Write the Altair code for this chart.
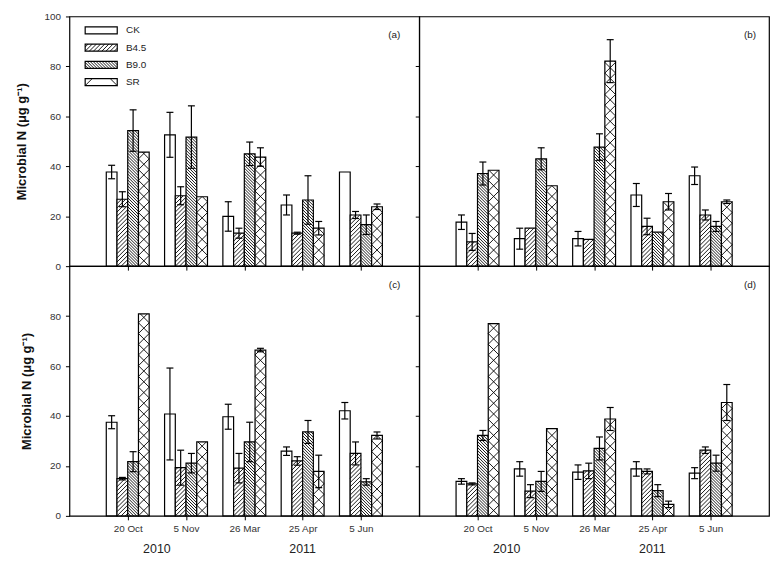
import math
import altair as alt
import pandas as pd

# ---------------- data ----------------
dates = ["20 Oct", "5 Nov", "26 Mar", "25 Apr", "5 Jun"]
date_years = ["2010", "2010", "2011", "2011", "2011"]
treatments = ["CK", "B4.5", "B9.0", "SR"]
panel_tags = ["(a)", "(b)", "(c)", "(d)"]
y_title = "Microbial N (μg g⁻¹)"

# rows: CK, B4.5, B9.0, SR ; columns: dates
a_means = [[37.7, 52.6, 19.9, 24.5, 37.7],
           [26.8, 28.2, 13.2, 13.2, 20.5],
           [54.3, 51.7, 45.0, 26.5, 16.6],
           [45.7, 27.8, 43.7, 15.2, 23.8]]
a_errs = [[2.7, 9.0, 5.9, 4.0, 0.0],
          [3.0, 3.6, 2.0, 0.4, 1.4],
          [8.3, 12.5, 4.7, 9.7, 3.9],
          [0.0, 0.0, 3.7, 2.7, 1.1]]

b_means = [[17.6, 11.0, 11.0, 28.5, 36.2],
           [9.7, 15.2, 10.7, 15.9, 20.5],
           [37.1, 43.0, 47.7, 13.6, 15.9],
           [38.4, 32.2, 82.1, 25.8, 25.8]]
b_errs = [[2.9, 4.2, 2.9, 4.6, 3.5],
          [3.4, 0.0, 0.0, 3.3, 2.0],
          [4.6, 4.4, 5.3, 0.0, 2.0],
          [0.0, 0.0, 8.6, 3.3, 0.7]]

c_means = [[37.5, 40.8, 39.7, 25.9, 42.1],
           [14.9, 19.3, 19.1, 22.0, 25.0],
           [21.7, 21.1, 29.6, 33.6, 13.6],
           [80.9, 29.6, 66.4, 17.8, 32.2]]
c_errs = [[2.6, 18.4, 5.0, 1.7, 3.3],
          [0.5, 7.0, 5.9, 1.7, 4.6],
          [4.0, 3.9, 7.9, 4.6, 1.3],
          [0.0, 0.0, 0.7, 6.5, 1.4]]

d_means = [[13.8, 18.8, 17.5, 18.8, 17.1],
           [12.8, 9.9, 18.0, 17.8, 26.3],
           [32.2, 13.8, 27.0, 10.1, 21.1],
           [77.0, 34.9, 38.8, 4.6, 45.4]]
d_errs = [[1.1, 2.9, 2.9, 2.9, 2.2],
          [0.4, 2.6, 3.1, 1.0, 1.3],
          [2.0, 4.0, 4.6, 2.4, 3.2],
          [0.0, 0.0, 4.6, 1.3, 7.2]]

# ---------------- layout / style ----------------
W, H = 353, 252
X_MAX, Y_MAX = 6.0, 100.0
SX, SY = W / X_MAX, H / Y_MAX
BAR_W = 0.184
FONT = "Liberation Sans"
patterns = {"CK": None, "B4.5": "up", "B9.0": "down", "SR": "x"}
UP_STEP, DOWN_STEP = 4.2, 3.0


def hatch(x0, x1, y0, y1, kind):
    """Hatch segments (data units) filling the rectangle."""
    segs = []
    if kind is None:
        return segs
    bw = (x1 - x0) * SX
    h = (y1 - y0) * SY

    def up(step):
        c = -math.floor(bw / step) * step
        while c < h:
            xa, xb = max(0.0, -c), min(bw, h - c)
            if xb - xa > 0.4:
                segs.append((x0 + xa / SX, y0 + (xa + c) / SY,
                             x0 + xb / SX, y0 + (xb + c) / SY))
            c += step

    def down(step):
        c = 0.0
        while c < h + bw:
            xa, xb = max(0.0, c - h), min(bw, c)
            if xb - xa > 0.4:
                segs.append((x0 + xa / SX, y0 + (c - xa) / SY,
                             x0 + xb / SX, y0 + (c - xb) / SY))
            c += step

    if kind == "up":
        up(UP_STEP)
    elif kind == "down":
        down(DOWN_STEP)
    elif kind == "x":
        up(bw)
        down(bw)
    return segs


def label_expr(labels):
    arr = ",".join("'" + s + "'" for s in [""] + labels)
    return "[" + arr + "][datum.value]"


def panel(idx, means, errs):
    tag = panel_tags[idx]
    left = idx % 2 == 0
    bottom = idx >= 2

    bars, hat, ebars, caps = [], [], [], []
    for si, t in enumerate(treatments):
        for gi, d in enumerate(dates):
            g = gi + 1
            x0 = g - 2 * BAR_W + si * BAR_W
            x1 = x0 + BAR_W
            v = means[si][gi]
            e = errs[si][gi]
            bars.append({"x0": x0, "x1": x1, "v": v, "z": 0.0, "t": t})
            for s in hatch(x0, x1, 0.0, v, patterns[t]):
                hat.append({"hx0": s[0], "hy0": s[1], "hx1": s[2], "hy1": s[3]})
            if e > 0:
                xc = (x0 + x1) / 2
                ebars.append({"xc": xc, "lo": v - e, "hi": v + e})
                for yy in (v - e, v + e):
                    caps.append({"cx0": xc - 3.5 / SX, "cx1": xc + 3.5 / SX, "cy": yy})

    xscale = alt.Scale(domain=[0, X_MAX], nice=False, zero=False)
    yscale = alt.Scale(domain=[0, Y_MAX], nice=False)

    x_axis = alt.Axis(values=[1, 2, 3, 4, 5], labels=bottom,
                      labelExpr=label_expr(dates), grid=False, domain=False,
                      ticks=True, tickSize=4, tickColor="black", tickWidth=1,
                      labelFont=FONT, labelFontSize=10, labelColor="#333",
                      labelPadding=4, title=None)
    if left:
        yvals = [0, 20, 40, 60, 80, 100] if not bottom else [0, 20, 40, 60, 80]
        y_axis = alt.Axis(values=yvals, labels=True, grid=False, domain=False,
                          tickSize=4, tickColor="black", tickWidth=1,
                          labelFont=FONT, labelFontSize=10, labelColor="#333",
                          labelPadding=5, title=y_title, titleFont=FONT,
                          titleFontSize=13, titleFontWeight="bold",
                          titleColor="#111", titlePadding=16)
    else:
        y_axis = alt.Axis(values=[20, 40, 60, 80], labels=False, grid=False,
                          domain=False, tickSize=4, tickColor="black",
                          tickWidth=1, title=None)

    bar_layer = alt.Chart(pd.DataFrame(bars)).mark_bar(
        fill="white", stroke="black", strokeWidth=1.2
    ).encode(
        x=alt.X("x0:Q", scale=xscale, axis=x_axis),
        x2="x1:Q",
        y=alt.Y("v:Q", scale=yscale, axis=y_axis),
        y2="z:Q",
    )
    layers = [bar_layer]

    # legend in panel (a)
    leg_hat = []
    leg_rows = []
    if idx == 0:
        for i, t in enumerate(treatments):
            yc = 94.4 - i * 6.9
            ly0, ly1 = yc - 1.4, yc + 1.4
            lx0, lx1 = 0.27, 0.82
            leg_rows.append({"x0": lx0, "x1": lx1, "v": ly1, "z": ly0,
                             "tx": 0.97, "ty": yc, "label": t})
            for s in hatch(lx0, lx1, ly0, ly1, patterns[t]):
                leg_hat.append({"hx0": s[0], "hy0": s[1], "hx1": s[2], "hy1": s[3]})
        leg_df = pd.DataFrame(leg_rows)
        layers.append(alt.Chart(leg_df).mark_bar(
            fill="white", stroke="black", strokeWidth=1.2
        ).encode(x="x0:Q", x2="x1:Q", y="v:Q", y2="z:Q"))

    hat_df = pd.DataFrame(hat + leg_hat)
    layers.append(alt.Chart(hat_df).mark_rule(color="black", strokeWidth=0.9).encode(
        x="hx0:Q", y="hy0:Q", x2="hx1:Q", y2="hy1:Q"))

    if idx == 0:
        layers.append(alt.Chart(pd.DataFrame(leg_rows)).mark_text(
            align="left", baseline="middle", font=FONT, fontSize=10, color="#222"
        ).encode(x="tx:Q", y="ty:Q", text="label:N"))

    layers.append(alt.Chart(pd.DataFrame(ebars)).mark_rule(
        color="black", strokeWidth=1.2
    ).encode(x="xc:Q", y="lo:Q", y2="hi:Q"))
    layers.append(alt.Chart(pd.DataFrame(caps)).mark_rule(
        color="black", strokeWidth=1.2
    ).encode(x="cx0:Q", x2="cx1:Q", y="cy:Q"))

    # panel tag
    tag_right = 19 if left else 13
    layers.append(alt.Chart(pd.DataFrame({"tag": [tag]})).mark_text(
        align="right", baseline="middle", font=FONT, fontSize=10, color="#222"
    ).encode(x=alt.value(W - tag_right), y=alt.value(19), text="tag:N"))

    # years under bottom panels
    if bottom:
        yr_rows = []
        for yr in sorted(set(date_years)):
            gs = [i + 1 for i, y in enumerate(date_years) if y == yr]
            yr_rows.append({"yx": sum(gs) / len(gs), "year": yr})
        layers.append(alt.Chart(pd.DataFrame(yr_rows)).mark_text(
            align="center", baseline="middle", font=FONT, fontSize=12.5, color="#222"
        ).encode(x="yx:Q", y=alt.value(H + 33), text="year:N"))

    return alt.layer(*layers).properties(width=W, height=H)


pa = panel(0, a_means, a_errs)
pb = panel(1, b_means, b_errs)
pc = panel(2, c_means, c_errs)
pd_ = panel(3, d_means, d_errs)

chart = alt.concat(pa, pb, pc, pd_, columns=2, spacing=0, bounds="flush").configure_view(
    stroke="black", strokeWidth=1.2
).properties(padding={"left": 6, "top": 0, "right": 0, "bottom": 0})

chart.save("out.html", embed_options={"renderer": "svg", "actions": False})
